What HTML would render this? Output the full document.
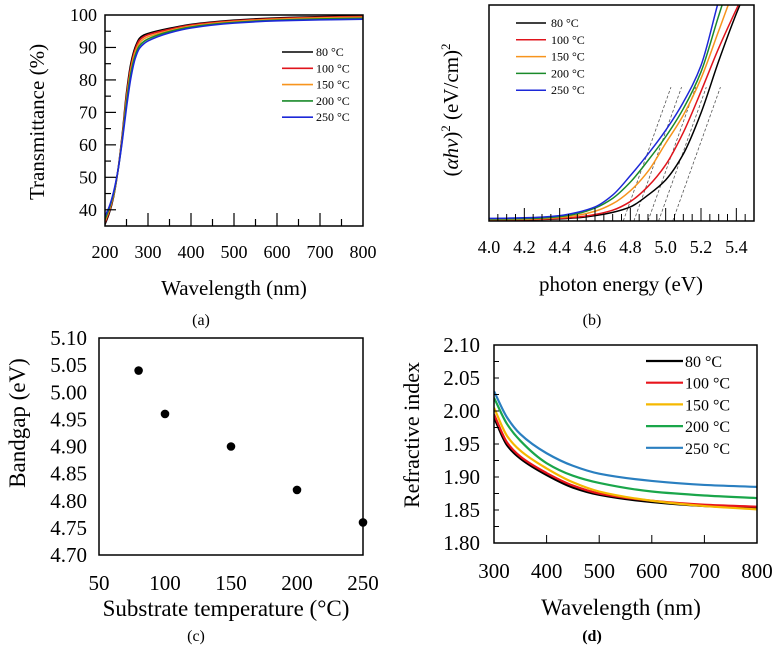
<!DOCTYPE html>
<html><head><meta charset="utf-8"><style>
html,body{margin:0;padding:0;background:#fff;}
svg, svg text{font-family:"Liberation Serif","Times New Roman",serif;}
</style></head><body>
<svg id="fig" width="778" height="645" viewBox="0 0 778 645" xmlns="http://www.w3.org/2000/svg" font-family="Liberation Serif, serif"></svg>
<script>
// ---- Panel (a) data ----
const aWavelengths=[200,210,220,230,240,250,260,270,280,290,300,350,400,500,600,700,800];
const aT80 =[35.5,39,44,52,63,76,85,90,92.8,93.8,94.3,95.9,97.1,98.4,99.1,99.5,99.8];
const aT100=[36,39.5,44.5,52,62.5,75,84,89.3,92.2,93.3,93.9,95.6,96.9,98.2,98.9,99.3,99.6];
const aT150=[36.5,40,44.5,52,62,74,83,88.5,91.3,92.6,93.3,95.2,96.6,98,98.7,99.1,99.3];
const aT200=[37,40.5,45,52,61.5,73,82,87.5,90.5,91.8,92.6,94.9,96.3,97.7,98.4,98.8,99];
const aT250=[38,41,45.5,52,61,71.5,80.5,86.5,89.7,91.1,92,94.5,96,97.5,98.2,98.5,98.7];
const aSeries=[aT80,aT100,aT150,aT200,aT250];
const aXTicks=[200,300,400,500,600,700,800];
const aYTicks=[40,50,60,70,80,90,100];
// ---- Panel (b) data ----
const bEnergy=[4.0,4.1,4.2,4.3,4.4,4.5,4.6,4.7,4.8,4.9,5.0,5.1,5.2,5.3,5.4,5.5];
const b80 =[0.003,0.004,0.005,0.007,0.010,0.015,0.025,0.040,0.065,0.12,0.19,0.31,0.50,0.74,0.96,1.15];
const b100=[0.004,0.005,0.006,0.008,0.012,0.018,0.030,0.050,0.090,0.16,0.26,0.41,0.60,0.80,0.98,1.15];
const b150=[0.006,0.007,0.008,0.011,0.016,0.026,0.045,0.080,0.14,0.23,0.36,0.49,0.66,0.88,1.10,1.3];
const b200=[0.009,0.010,0.011,0.014,0.020,0.034,0.060,0.105,0.18,0.28,0.39,0.52,0.69,0.95,1.2,1.4];
const b250=[0.012,0.013,0.015,0.018,0.025,0.040,0.065,0.12,0.21,0.31,0.42,0.55,0.72,1.02,1.3,1.5];
const bSeries=[b80,b100,b150,b200,b250];
const bGaps=[5.04,4.96,4.90,4.82,4.76];
const bXTicks=[4.0,4.2,4.4,4.6,4.8,5.0,5.2,5.4];
// ---- Panel (c) data ----
const cTemps=[80,100,150,200,250];
const cGap=[5.04,4.96,4.90,4.82,4.76];
const cXTicks=[50,100,150,200,250];
const cYTicks=[4.70,4.75,4.80,4.85,4.90,4.95,5.00,5.05,5.10];
// ---- Panel (d) data ----
const dWl=[300,325,350,400,450,500,600,700,800];
const d80 =[1.990,1.948,1.928,1.903,1.884,1.873,1.862,1.856,1.853];
const d100=[1.995,1.952,1.931,1.906,1.887,1.875,1.864,1.858,1.855];
const d150=[2.005,1.962,1.940,1.913,1.892,1.878,1.864,1.856,1.851];
const d200=[2.020,1.980,1.955,1.921,1.902,1.891,1.878,1.872,1.868];
const d250=[2.030,1.990,1.965,1.936,1.917,1.905,1.894,1.888,1.885];
const dSeries=[d80,d100,d150,d200,d250];
const dXTicks=[300,400,500,600,700,800];
const dYTicks=[1.80,1.85,1.90,1.95,2.00,2.05,2.10];
const legendLabels=["80 °C","100 °C","150 °C","200 °C","250 °C"];

const NS="http://www.w3.org/2000/svg";
const svg=document.getElementById('fig');
function mk(tag,attrs,parent,text){const e=document.createElementNS(NS,tag);for(const k in attrs)e.setAttribute(k,attrs[k]);if(tag==='text')e.setAttribute('font-family','Liberation Serif, serif');if(text!==undefined)e.textContent=text;(parent||svg).appendChild(e);return e;}
function lin(d0,d1,r0,r1){return v=>r0+(v-d0)*(r1-r0)/(d1-d0);}
// monotone cubic (Fritsch-Carlson) in x-space
function smoothPath(pts){const n=pts.length;const dx=[],s=[];for(let i=0;i<n-1;i++){dx.push(pts[i+1][0]-pts[i][0]);s.push((pts[i+1][1]-pts[i][1])/dx[i]);}
const m=[s[0]];for(let i=1;i<n-1;i++){if(s[i-1]*s[i]<=0)m.push(0);else{const w1=2*dx[i]+dx[i-1],w2=dx[i]+2*dx[i-1];m.push((w1+w2)/(w1/s[i-1]+w2/s[i]));}}m.push(s[n-2]);
let d='M'+pts[0][0].toFixed(2)+','+pts[0][1].toFixed(2);
for(let i=0;i<n-1;i++){const h=dx[i]/3;d+=' C'+(pts[i][0]+h).toFixed(2)+','+(pts[i][1]+m[i]*h).toFixed(2)+' '+(pts[i+1][0]-h).toFixed(2)+','+(pts[i+1][1]-m[i+1]*h).toFixed(2)+' '+pts[i+1][0].toFixed(2)+','+pts[i+1][1].toFixed(2);}return d;}

// ===== Panel a =====
const ga=mk('g',{});


const axA=lin(200,800,105,363), ayA=lin(35,100,226,15);
const colA=['#000','#e0141c','#f7941d','#1a8a2a','#1c28d8'];
mk('clipPath',{id:'clipA'},ga);mk('rect',{x:105,y:15,width:258,height:211},ga.lastChild);
colA.forEach((c,i)=>{const p=mk('path',{d:smoothPath(aWavelengths.map((w,j)=>[axA(w),ayA(aSeries[i][j])])),fill:'none',stroke:c,'stroke-width':1.6,'clip-path':'url(#clipA)'},ga);

});
mk('rect',{x:105,y:15,width:258,height:211,fill:'none',stroke:'#000','stroke-width':1.5},ga);
for(let v=250;v<800;v+=50){const x=axA(v);mk('line',{x1:x,x2:x,y1:226,y2:v%100===0?213:219,stroke:'#000','stroke-width':1.2},ga);}
for(let v=40;v<100;v+=5){const y=ayA(v);mk('line',{x1:105,x2:v%10===0?116:111,y1:y,y2:y,stroke:'#000','stroke-width':1.2},ga);}
aXTicks.forEach(v=>{const t=mk('text',{x:axA(v),y:258,'font-size':18,'text-anchor':'middle'},ga,String(v));});
aYTicks.forEach(v=>{const t=mk('text',{x:97,y:ayA(v)+6,'font-size':18,'text-anchor':'end'},ga,String(v));});
let t=mk('text',{x:234,y:295,'font-size':21,'text-anchor':'middle'},ga,'Wavelength (nm)');
t=mk('text',{x:0,y:0,'font-size':21,'text-anchor':'middle',transform:'translate(44,122) rotate(-90)'},ga,'Transmittance (%)');
t=mk('text',{x:201,y:325,'font-size':16,'text-anchor':'middle'},ga,'(a)');
colA.forEach((c,i)=>{const y=52+i*16.3;const g=mk('g',{},ga);mk('line',{x1:282,x2:313,y1:y,y2:y,stroke:c,'stroke-width':1.6},g);mk('text',{x:316,y:y+4,'font-size':12},g,legendLabels[i]);});

// ===== Panel b =====
const gb=mk('g',{});


const axB=lin(4.0,5.5,489,754), ayB=lin(0,1,221,5);
mk('clipPath',{id:'clipB'},gb);mk('rect',{x:489,y:5,width:265,height:216},gb.lastChild);
bGaps.forEach((g0,i)=>{const l=mk('line',{x1:axB(g0),y1:ayB(0),x2:axB(g0+0.27),y2:ayB(0.62),stroke:'#555','stroke-width':0.8,'stroke-dasharray':'3,2','clip-path':'url(#clipB)'},gb);});
colA.forEach((c,i)=>{const p=mk('path',{d:smoothPath(bEnergy.map((e,j)=>[axB(e),ayB(bSeries[i][j])])),fill:'none',stroke:c,'stroke-width':1.5,'clip-path':'url(#clipB)'},gb);

});
mk('rect',{x:489,y:5,width:265,height:216,fill:'none',stroke:'#000','stroke-width':1.5},gb);
for(let k=1;k<30;k++){const v=4.0+k*0.05;const x=axB(v);const major=k%4===0;mk('line',{x1:x,x2:x,y1:221,y2:major?208:214,stroke:'#000','stroke-width':1},gb);}
bXTicks.forEach(v=>{const t=mk('text',{x:axB(v),y:253,'font-size':18,'text-anchor':'middle'},gb,v.toFixed(1));});
t=mk('text',{x:621,y:291,'font-size':21,'text-anchor':'middle'},gb,'photon energy (eV)');
t=mk('text',{x:0,y:0,'font-size':21,'text-anchor':'middle',transform:'translate(458,110) rotate(-90)'},gb);
mk('tspan',{},t,'(');mk('tspan',{'font-style':'italic'},t,'αhv');mk('tspan',{},t,')');mk('tspan',{'font-size':13,dy:-8},t,'2');mk('tspan',{dy:8},t,' (eV/cm)');mk('tspan',{'font-size':13,dy:-8},t,'2');
t=mk('text',{x:592,y:325,'font-size':16,'text-anchor':'middle'},gb,'(b)');
colA.forEach((c,i)=>{const y=23+i*16.8;const g=mk('g',{},gb);mk('line',{x1:516,x2:546,y1:y,y2:y,stroke:c,'stroke-width':1.5},g);mk('text',{x:551,y:y+4,'font-size':12},g,legendLabels[i]);});

// ===== Panel c =====
const gc=mk('g',{});


const axC=lin(50,250,99,363), ayC=lin(4.70,5.10,555,338);
mk('rect',{x:99,y:338,width:264,height:217,fill:'none',stroke:'#000','stroke-width':1.5},gc);
cTemps.forEach((v,i)=>{const d=mk('circle',{cx:axC(v),cy:ayC(cGap[i]),r:4.3,fill:'#000'},gc);});
cXTicks.forEach(v=>{const t=mk('text',{x:axC(v),y:590,'font-size':21,'text-anchor':'middle'},gc,String(v));});
cYTicks.forEach(v=>{const t=mk('text',{x:87,y:ayC(v)+7,'font-size':21,'text-anchor':'end'},gc,v.toFixed(2));});
t=mk('text',{x:226,y:616,'font-size':23,'text-anchor':'middle'},gc,'Substrate  temperature (°C)');
t=mk('text',{x:0,y:0,'font-size':23,'text-anchor':'middle',transform:'translate(25,423) rotate(-90)'},gc,'Bandgap (eV)');
t=mk('text',{x:196,y:641,'font-size':16,'text-anchor':'middle'},gc,'(c)');

// ===== Panel d =====
const gd=mk('g',{});


const axD=lin(300,800,494,757), ayD=lin(1.80,2.10,543,345);
const colD=['#000','#e8141c','#f5b800','#1aa64a','#2a7fc0'];
mk('clipPath',{id:'clipD'},gd);mk('rect',{x:494,y:345,width:263,height:198},gd.lastChild);
colD.forEach((c,i)=>{const p=mk('path',{d:smoothPath(dWl.map((w,j)=>[axD(w),ayD(dSeries[i][j])])),fill:'none',stroke:c,'stroke-width':2.2,'clip-path':'url(#clipD)'},gd);

});
mk('rect',{x:494,y:345,width:263,height:198,fill:'none',stroke:'#000','stroke-width':1.5},gd);
for(let v=400;v<800;v+=100){const x=axD(v);mk('line',{x1:x,x2:x,y1:543,y2:535,stroke:'#000','stroke-width':1},gd);}
for(let k=1;k<12;k++){const y=ayD(1.80+k*0.025);mk('line',{x1:494,x2:499,y1:y,y2:y,stroke:'#000','stroke-width':1},gd);}
dXTicks.forEach(v=>{const t=mk('text',{x:axD(v),y:578,'font-size':21,'text-anchor':'middle'},gd,String(v));});
dYTicks.forEach(v=>{const t=mk('text',{x:480,y:ayD(v)+7,'font-size':21,'text-anchor':'end'},gd,v.toFixed(2));});
t=mk('text',{x:621,y:615,'font-size':23,'text-anchor':'middle'},gd,'Wavelength  (nm)');
t=mk('text',{x:0,y:0,'font-size':22,'text-anchor':'middle',transform:'translate(419,435) rotate(-90)'},gd,'Refractive  index');
t=mk('text',{x:592,y:641,'font-size':16,'text-anchor':'middle','font-weight':'bold'},gd,'(d)');
colD.forEach((c,i)=>{const y=361+i*21.7;const g=mk('g',{},gd);mk('line',{x1:646,x2:683,y1:y,y2:y,stroke:c,'stroke-width':2.2},g);mk('text',{x:685,y:y+6,'font-size':16},g,legendLabels[i]);});
</script>
</body></html>
